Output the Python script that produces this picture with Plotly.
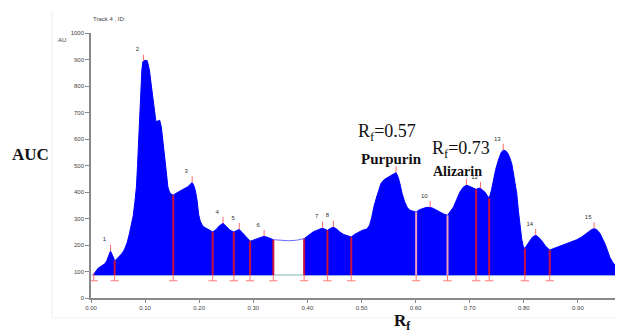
import numpy as np
import plotly.graph_objects as go

# ---------------- data ----------------
baseline = 87

seg_a_x = [0.005, 0.008, 0.013, 0.020, 0.025, 0.029, 0.032, 0.036, 0.040, 0.044, 0.048, 0.053,
           0.058, 0.062, 0.067, 0.071, 0.075, 0.078, 0.081, 0.084, 0.086, 0.088, 0.090, 0.092,
           0.094, 0.096, 0.100, 0.104, 0.106, 0.108, 0.111, 0.115, 0.118, 0.120, 0.124, 0.127,
           0.130, 0.133, 0.136, 0.139, 0.142, 0.145, 0.148, 0.152, 0.158, 0.165, 0.172, 0.179,
           0.184, 0.187, 0.190, 0.193, 0.196, 0.199, 0.202, 0.207, 0.214, 0.220, 0.225, 0.231,
           0.237, 0.244, 0.250, 0.257, 0.264, 0.269, 0.274, 0.279, 0.285, 0.290, 0.294, 0.300,
           0.306, 0.313, 0.320, 0.326, 0.331, 0.337]
seg_a_y = [90, 100, 112, 122, 128, 140, 158, 177, 160, 140, 148, 158,
           170, 184, 210, 243, 280, 310, 360, 420, 500, 595, 700, 784,
           860, 893, 897, 895, 880, 860, 810, 745, 690, 666, 668, 671,
           645, 595, 545, 480, 420, 400, 392, 388, 396, 404, 412, 420,
           430, 436, 425, 405, 370, 315, 290, 270, 262, 255, 249, 258,
           272, 282, 270, 256, 249, 254, 259, 248, 236, 224, 214, 218,
           224, 229, 233, 229, 224, 220]

gap_x = [0.337, 0.350, 0.365, 0.380, 0.394]
gap_y = [220, 217, 216, 218, 224]

seg_b_x = [0.394, 0.400, 0.405, 0.411, 0.417, 0.423, 0.428, 0.432, 0.437, 0.442, 0.448, 0.454,
           0.460, 0.467, 0.474, 0.481, 0.487, 0.494, 0.502, 0.510, 0.515, 0.519, 0.523, 0.528,
           0.532, 0.536, 0.542, 0.549, 0.556, 0.564, 0.568, 0.571, 0.575, 0.580, 0.585, 0.590,
           0.596, 0.601, 0.607, 0.614, 0.620, 0.627, 0.633, 0.639, 0.645, 0.652, 0.659, 0.664,
           0.670, 0.676, 0.682, 0.688, 0.694, 0.699, 0.704, 0.708, 0.712, 0.716, 0.720, 0.724,
           0.728, 0.732, 0.736, 0.740, 0.744, 0.748, 0.753, 0.758, 0.762, 0.766, 0.770, 0.774,
           0.778, 0.782, 0.787, 0.790, 0.793, 0.796, 0.799, 0.802, 0.806, 0.811, 0.816, 0.822,
           0.827, 0.833, 0.840, 0.848, 0.856, 0.864, 0.873, 0.882, 0.890, 0.898, 0.907, 0.913,
           0.919, 0.925, 0.930, 0.935, 0.941, 0.946, 0.950, 0.955, 0.959, 0.964, 0.969, 0.975,
           0.980, 0.983]
seg_b_y = [224, 234, 243, 250, 255, 260, 264, 260, 255, 262, 268, 260,
           249, 240, 234, 230, 240, 249, 256, 260, 275, 305, 345, 381,
           410, 432, 447, 457, 464, 473, 455, 432, 395, 362, 340, 331,
           326, 324, 333, 338, 342, 342, 338, 331, 324, 317, 312, 325,
           343, 372, 400, 418, 426, 422, 418, 412, 410, 414, 414, 407,
           400, 388, 376, 405, 444, 485, 520, 548, 558, 556, 548, 530,
           505, 460, 394, 330, 268, 225, 195, 186, 200, 217, 230, 237,
           230, 217, 196, 181, 187, 193, 200, 207, 213, 220, 230, 240,
           250, 258, 262, 258, 243, 225, 205, 178, 154, 136, 123, 115,
           110, 108]

boundaries = [0.005, 0.0437, 0.152, 0.225, 0.264, 0.294, 0.337, 0.394, 0.437, 0.481,
              0.601, 0.659, 0.712, 0.736, 0.802, 0.848, 0.983]
peak_x = [0.036, 0.097, 0.187, 0.244, 0.274, 0.320, 0.428, 0.448, 0.564, 0.627,
          0.694, 0.720, 0.762, 0.822, 0.930]
peak_labels = ["1", "2", "3", "4", "5", "6", "7", "8", "", "10", "", "12", "13", "14", "15"]

x_tick_vals = [0.0, 0.1, 0.2, 0.3, 0.4, 0.5, 0.6, 0.7, 0.8, 0.9]
x_tick_text = ["0.00", "0.10", "0.20", "0.30", "0.40", "0.50", "0.60", "0.70", "0.80", "0.90"]
y_tick_vals = [0, 100, 200, 300, 400, 500, 600, 700, 800, 900, 1000]

# ---------------- figure ----------------
all_x = np.array(seg_a_x + gap_x + seg_b_x)
all_y = np.array(seg_a_y + gap_y + seg_b_y)
order = np.argsort(all_x, kind="stable")
ax_, ay_ = all_x[order], all_y[order]

BLUE = "#0000ff"
fig = go.Figure()

# baseline
fig.add_trace(go.Scatter(x=[seg_a_x[0] - 0.004, seg_b_x[-1]], y=[baseline, baseline], mode="lines",
                         line=dict(color="#a8cccc", width=1.5), hoverinfo="skip"))

# filled segments
for sx, sy in ((seg_a_x, seg_a_y), (seg_b_x, seg_b_y)):
    fig.add_trace(go.Scatter(x=sx, y=[baseline] * len(sx), mode="lines",
                             line=dict(color=BLUE, width=0.5), hoverinfo="skip"))
    fig.add_trace(go.Scatter(x=sx, y=sy, mode="lines", fill="tonexty", fillcolor=BLUE,
                             line=dict(color=BLUE, width=1), hoverinfo="skip"))

# gap line
fig.add_trace(go.Scatter(x=gap_x, y=gap_y, mode="lines",
                         line=dict(color="#6a6aff", width=1), hoverinfo="skip"))

# boundary lines
bx, by = [], []
lx, ly = [], []
for b in boundaries:
    v = float(np.interp(b, ax_, ay_))
    if abs(b - 0.659) < 1e-6 or abs(b - 0.601) < 1e-6:
        lx += [b, b, None]
        ly += [baseline, v, None]
    else:
        bx += [b, b, None]
        by += [baseline, v, None]
fig.add_trace(go.Scatter(x=bx, y=by, mode="lines", line=dict(color="#c8103f", width=2),
                         hoverinfo="skip"))
fig.add_trace(go.Scatter(x=lx, y=ly, mode="lines", line=dict(color="#f0a0b4", width=2),
                         hoverinfo="skip"))

# bottom markers
mx, my = [], []
for b in boundaries:
    mx += [b, b, None]
    my += [baseline, baseline - 22, None]
fig.add_trace(go.Scatter(x=mx, y=my, mode="lines", line=dict(color="#ff7a7a", width=1),
                         hoverinfo="skip"))
fig.add_trace(go.Scatter(x=boundaries, y=[baseline - 22] * len(boundaries), mode="markers",
                         marker=dict(symbol="line-ew", size=6, line=dict(color="#ff7a7a", width=1)),
                         hoverinfo="skip"))

# peak ticks and labels
tx, ty = [], []
lab_x, lab_y, lab_t = [], [], []
for p, lab in zip(peak_x, peak_labels):
    v = float(np.interp(p, ax_, ay_))
    tx += [p, p, None]
    ty += [v, v + 24, None]
    if lab:
        lab_x.append(p - 0.011)
        lab_y.append(v + 42)
        lab_t.append(lab)
fig.add_trace(go.Scatter(x=tx, y=ty, mode="lines", line=dict(color="#ff6b6b", width=1),
                         hoverinfo="skip"))
fig.add_trace(go.Scatter(x=lab_x, y=lab_y, mode="text", text=lab_t,
                         textfont=dict(size=6, color="#333333", family="Arial"),
                         hoverinfo="skip"))

serif = "Liberation Serif, Times New Roman, serif"
annots = [
    dict(x=0.547, y=624, xref="x", yref="y", text="R<sub>f</sub>=0.57",
         font=dict(family=serif, size=18, color="#111")),
    dict(x=0.556, y=525, xref="x", yref="y", text="<b>Purpurin</b>",
         font=dict(family=serif, size=15, color="#111")),
    dict(x=0.684, y=562, xref="x", yref="y", text="R<sub>f</sub>=0.73",
         font=dict(family=serif, size=18, color="#111")),
    dict(x=0.678, y=478, xref="x", yref="y", text="<b>Alizarin</b>",
         font=dict(family=serif, size=14, color="#111")),
    dict(x=-0.113, y=0.543, xref="paper", yref="paper", text="<b>AUC</b>",
         font=dict(family=serif, size=17, color="#111")),
    dict(x=0.585, y=-0.09, xref="paper", yref="paper", text="<b>R<sub>f</sub></b>",
         font=dict(family=serif, size=17, color="#111")),
    dict(x=0.0, y=1.053, xref="paper", yref="paper", text="Track 4 , ID:", xanchor="left",
         font=dict(family="Arial", size=6, color="#444")),
    dict(x=-0.0545, y=0.974, xref="paper", yref="paper", text="AU",
         font=dict(family="Arial", size=6, color="#444")),
]
for a in annots:
    a["showarrow"] = False
    a.setdefault("xanchor", "center")
    a["yanchor"] = "middle"

# page body adds an 8px offset; compensate in size and margins
fig.update_layout(
    width=615, height=322,
    margin=dict(l=83, r=0, t=25, b=32),
    paper_bgcolor="white", plot_bgcolor="white",
    showlegend=False,
    annotations=annots,
    shapes=[
        dict(type="line", xref="paper", yref="paper", x0=-0.073, x1=-0.073, y0=1.08, y1=-0.075,
             line=dict(color="#ececec", width=1)),
        dict(type="line", xref="paper", yref="paper", x0=-0.073, x1=1.0, y0=-0.075, y1=-0.075,
             line=dict(color="#f0f0f0", width=1)),
    ],
)
fig.update_xaxes(range=[0, 0.9834], showgrid=False, zeroline=False, showline=True,
                 linecolor="#8a8a8a", linewidth=1.5, ticks="outside", ticklen=3,
                 tickcolor="#8a8a8a", tickvals=x_tick_vals, ticktext=x_tick_text,
                 tickfont=dict(size=6, color="#444", family="Arial"))
fig.update_yaxes(range=[0, 1000], showgrid=False, zeroline=False, showline=True,
                 linecolor="#8a8a8a", linewidth=1.5, ticks="outside", ticklen=4,
                 tickcolor="#8a8a8a", tickvals=y_tick_vals,
                 tickfont=dict(size=6, color="#444", family="Arial"))

fig.write_html("out.html")
